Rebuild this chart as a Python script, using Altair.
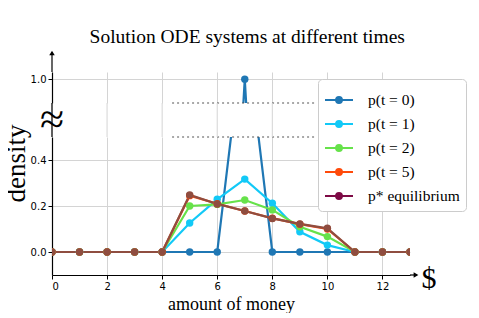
import altair as alt
import pandas as pd

money = list(range(14))
labels = ["p(t = 0)", "p(t = 1)", "p(t = 2)", "p(t = 5)", "p* equilibrium"]
p_t0 = [0, 0, 0, 0, 0, 0, 0, 1.0, 0, 0, 0, 0, 0, 0]
p_t1 = [0, 0, 0, 0, 0, 0.126, 0.229, 0.317, 0.212, 0.088, 0.030, 0, 0, 0]
p_t2 = [0, 0, 0, 0, 0, 0.200, 0.207, 0.226, 0.183, 0.110, 0.067, 0, 0, 0]
p_t5 = [0, 0, 0, 0, 0, 0.245, 0.210, 0.178, 0.147, 0.121, 0.100, 0, 0, 0]
p_eq = [0, 0, 0, 0, 0, 0.248, 0.209, 0.178, 0.146, 0.122, 0.103, 0, 0, 0]
legend_colors = ["#1f77b4", "#12c9f7", "#66e24a", "#ff4a0a", "#7d0a45"]
plot_colors = ["#1f77b4", "#12c9f7", "#66e24a", "#ff4a0a", "#8f4d40"]
x_ticks = [0, 2, 4, 6, 8, 10, 12]
lower_ticks = [0.0, 0.2, 0.4]
upper_ticks = [1.0]
x_domain = [0, 13]
lower_domain = [-0.1, 0.5]
upper_domain = [0.95, 1.015]
break_x = [4.36, 9.53]

series = [p_t0, p_t1, p_t2, p_t5, p_eq]
rows = []
for lab, vals in zip(labels, series):
    for m, v in zip(money, vals):
        rows.append({"series": lab, "money": m, "p": v})
df = pd.DataFrame(rows)
breaks = pd.DataFrame({"x0": [break_x[0]], "x1": [break_x[1]],
                       "ylo": [lower_domain[1]], "yhi": [upper_domain[0]]})
ticks_df = pd.DataFrame({"money": x_ticks})
one = pd.DataFrame({"a": [0]})

W = 358
H_UP = 31
H_LO = 138
GAP = 34
SERIF = "Liberation Serif"
SANS = "DejaVu Sans"

xscale = alt.Scale(domain=x_domain, nice=False, zero=False)
color_plot = alt.Color("series:N", scale=alt.Scale(domain=labels, range=plot_colors), legend=None)
sym_path = "M-1,0L1,0M0.21,0A0.21,0.21,0,1,1,-0.21,0A0.21,0.21,0,1,1,0.21,0Z"


def data_layers(yscale, yaxis, xaxis):
    base = alt.Chart(df)
    line = base.mark_line(strokeWidth=2.2, clip=True).encode(
        x=alt.X("money:Q", scale=xscale, axis=xaxis),
        y=alt.Y("p:Q", scale=yscale, axis=yaxis),
        color=color_plot,
        order=alt.Order("money:Q"),
    )
    pts = base.mark_circle(size=55, opacity=1, clip=True).encode(
        x=alt.X("money:Q", scale=xscale),
        y=alt.Y("p:Q", scale=yscale),
        color=color_plot,
    )
    return line, pts


# ---------- upper panel ----------
up_yscale = alt.Scale(domain=upper_domain, nice=False, zero=False)
up_yaxis = alt.Axis(values=upper_ticks, format=".1f", title=None, grid=True,
                    gridColor="#d4d4d4", domainColor="black", domainWidth=1.2,
                    tickColor="black", tickSize=4, labelFont=SANS, labelFontSize=10,
                    labelColor="black")
up_xaxis = alt.Axis(values=x_ticks, labels=False, ticks=False, domain=False, title=None,
                    grid=True, gridColor="#d4d4d4")
up_line, up_pts = data_layers(up_yscale, up_yaxis, up_xaxis)
up_break = alt.Chart(breaks).mark_rule(color="#555555", strokeDash=[2, 3], strokeWidth=1.2).encode(
    x="x0:Q", x2="x1:Q", y=alt.Y("yhi:Q"))
up_spine = alt.Chart(one).mark_rule(color="black", strokeWidth=1.2).encode(
    x=alt.value(0), y=alt.value(-20), y2=alt.value(0))
up_arrow = alt.Chart(one).mark_point(shape="triangle-up", filled=True, color="black",
                                     size=30, opacity=1).encode(
    x=alt.value(0), y=alt.value(-19))
upper = alt.layer(up_line, up_pts, up_break, up_spine, up_arrow).properties(
    width=W, height=H_UP)

# ---------- lower panel ----------
lo_yscale = alt.Scale(domain=lower_domain, nice=False, zero=False)
lo_yaxis = alt.Axis(values=lower_ticks, format=".1f", title="density", grid=True,
                    gridColor="#d4d4d4", domainColor="black", domainWidth=1.2,
                    tickColor="black", tickSize=4, labelFont=SANS, labelFontSize=10,
                    labelColor="black", titleFont=SERIF, titleFontSize=27,
                    titleFontWeight="normal", titleColor="black", titleAngle=270,
                    titleX=-22, titleY=26, titleAlign="center", titleBaseline="bottom")
lo_xaxis = alt.Axis(values=x_ticks, title="amount of money", grid=True,
                    gridColor="#d4d4d4", domainColor="black", domainWidth=1.2,
                    tickColor="black", tickSize=4, labelFont=SANS, labelFontSize=10,
                    labelColor="black", labelPadding=2, titleFont=SERIF, titleFontSize=18,
                    titleFontWeight="normal", titleColor="black", titlePadding=4)
lo_line, lo_pts = data_layers(lo_yscale, lo_yaxis, lo_xaxis)

leg_scale = alt.Scale(domain=labels, range=legend_colors)
leg = alt.Legend(orient="none", legendX=266, legendY=-58, title=None)
legend_layer = alt.Chart(df).transform_filter("datum.money < 0").mark_point(
    filled=True, opacity=1, size=10).encode(
    x=alt.X("money:Q", scale=xscale),
    y=alt.Y("p:Q", scale=lo_yscale),
    fill=alt.Fill("series:N", scale=leg_scale, legend=leg),
    stroke=alt.Stroke("series:N", scale=leg_scale, legend=leg),
)
lo_break = alt.Chart(breaks).mark_rule(color="#555555", strokeDash=[2, 3], strokeWidth=1.2).encode(
    x="x0:Q", x2="x1:Q", y=alt.Y("ylo:Q"))
gap_grid = alt.Chart(ticks_df).mark_rule(color="#d4d4d4", strokeWidth=1).encode(
    x=alt.X("money:Q", scale=xscale), y=alt.value(-GAP), y2=alt.value(0))
gap_spine = alt.Chart(one).mark_rule(color="black", strokeWidth=1.2).encode(
    x=alt.value(0), y=alt.value(-GAP), y2=alt.value(0))
approx = alt.Chart(one).mark_text(text="≈", font=SERIF, fontSize=44, color="black",
                                  align="center", baseline="middle").encode(
    x=alt.value(0), y=alt.value(-16))
x_ext = alt.Chart(one).mark_rule(color="black", strokeWidth=1.2).encode(
    x=alt.value(W), x2=alt.value(W + 7), y=alt.value(H_LO))
x_arrow = alt.Chart(one).mark_point(shape="triangle-right", filled=True, color="black",
                                    size=30, opacity=1).encode(
    x=alt.value(W + 6), y=alt.value(H_LO))
dollar = alt.Chart(one).mark_text(text="$", font=SERIF, fontSize=30, color="black",
                                  align="center", baseline="middle").encode(
    x=alt.value(W + 19), y=alt.value(H_LO + 4))

lower = alt.layer(lo_line, lo_pts, legend_layer, lo_break, gap_grid, gap_spine, approx,
                  x_ext, x_arrow, dollar).properties(width=W, height=H_LO)

chart = alt.vconcat(upper, lower, spacing=GAP, bounds="flush").resolve_scale(
    y="independent").resolve_legend(fill="independent", stroke="independent").properties(
    title=alt.TitleParams("Solution ODE systems at different times", font=SERIF,
                          fontSize=19.5, fontWeight="normal", color="black", anchor="middle",
                          offset=3, dx=13),
    padding={"left": -6, "top": 19, "right": 0, "bottom": 0},
).configure_view(stroke=None).configure_legend(
    fillColor="white", strokeColor="#cccccc",
    cornerRadius=4, padding=6, symbolType=sym_path, symbolSize=784, symbolStrokeWidth=2,
    symbolOpacity=1, labelFont=SERIF, labelFontSize=15.5, labelColor="black",
    rowPadding=0, labelOffset=14,
)

chart.save("out.html", embed_options={"renderer": "svg", "actions": False})
